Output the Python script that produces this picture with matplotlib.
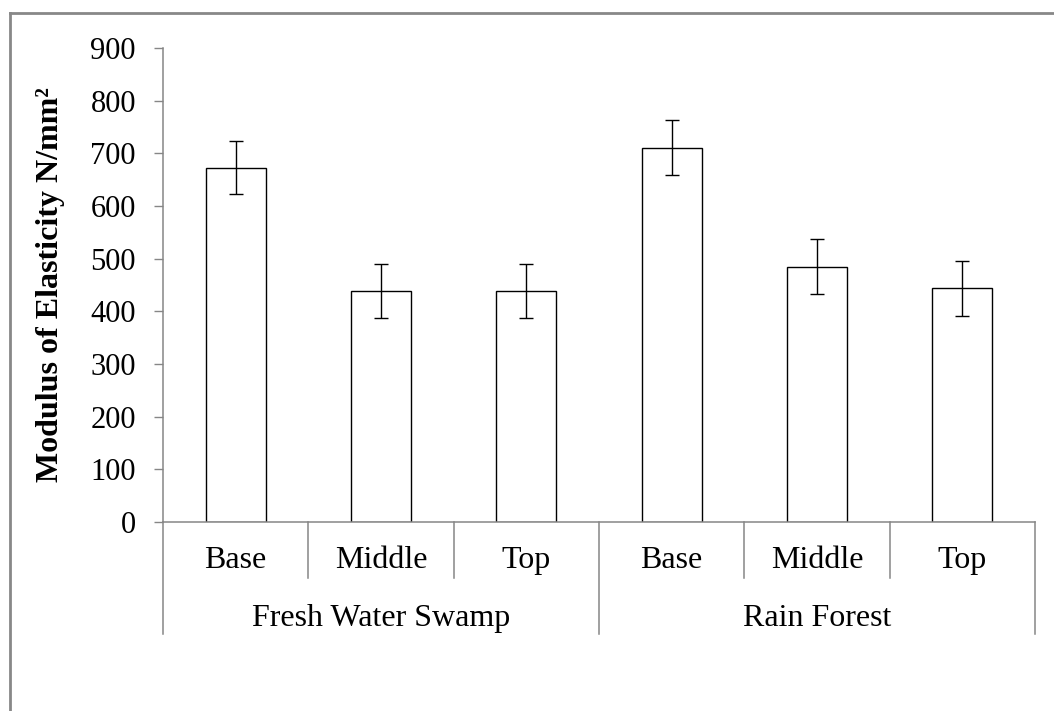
import matplotlib
matplotlib.use("Agg")
import matplotlib.pyplot as plt
from matplotlib.lines import Line2D
import matplotlib.transforms as mtransforms

groups = ["Fresh Water Swamp", "Rain Forest"]
positions = ["Base", "Middle", "Top"]
values = [673, 439, 439, 711, 485, 444]
errors = [51, 51.5, 51, 52.5, 52, 52]
yticks = [0, 100, 200, 300, 400, 500, 600, 700, 800, 900]
ylabel = "Modulus of Elasticity N/mm²"

plt.rcParams['font.family'] = ['Liberation Serif', 'DejaVu Serif']

W, H = 1054, 711
fig = plt.figure(figsize=(W / 100, H / 100), dpi=100)
ax = fig.add_axes([163 / W, 1 - 522 / H, 872 / W, 474 / H])

gray = "#868686"
n = len(values)
xs = [i + 0.5 for i in range(n)]
ax.bar(xs, values, width=0.413, color="white", edgecolor="black", linewidth=1.0, zorder=2)
ax.errorbar(xs, values, yerr=errors, fmt="none", ecolor="black", elinewidth=1.0,
            capsize=4.7, capthick=1.0, zorder=3)

ax.set_xlim(0, n)
ax.set_ylim(0, 900)
ax.set_yticks(yticks)
ax.set_yticklabels([str(t) for t in yticks])
ax.tick_params(axis="y", direction="out", length=6.5, width=1.0, color=gray,
               labelsize=22, pad=13)
ax.set_xticks([])
for s in ["top", "right"]:
    ax.spines[s].set_visible(False)
for s in ["left", "bottom"]:
    ax.spines[s].set_color(gray)
    ax.spines[s].set_linewidth(1.1)

trans = mtransforms.blended_transform_factory(ax.transData, ax.transAxes)
ng = len(groups)
npos = len(positions)
for i in range(n + 1):
    y0 = -0.236 if i % npos == 0 else -0.118
    ax.add_line(Line2D([i, i], [0, y0], transform=trans, color=gray, lw=1.1, clip_on=False))

for i in range(n):
    ax.text(i + 0.5, -0.081, positions[i % npos], transform=trans, ha="center", va="center",
            fontsize=23)
for g in range(ng):
    ax.text(g * npos + npos / 2, -0.203, groups[g], transform=trans, ha="center", va="center",
            fontsize=23)

ax.text(-0.129, 0.5, ylabel, transform=ax.transAxes, rotation=90, ha="center", va="center",
        fontsize=23, fontweight="bold")

fig.add_artist(Line2D([9.5 / W, 1.0], [1 - 12.5 / H, 1 - 12.5 / H], transform=fig.transFigure,
                      color="#888888", lw=2.0))
fig.add_artist(Line2D([9.5 / W, 9.5 / W], [0, 1 - 12.5 / H], transform=fig.transFigure,
                      color="#888888", lw=2.0))

fig.savefig("out.png", dpi=100)
